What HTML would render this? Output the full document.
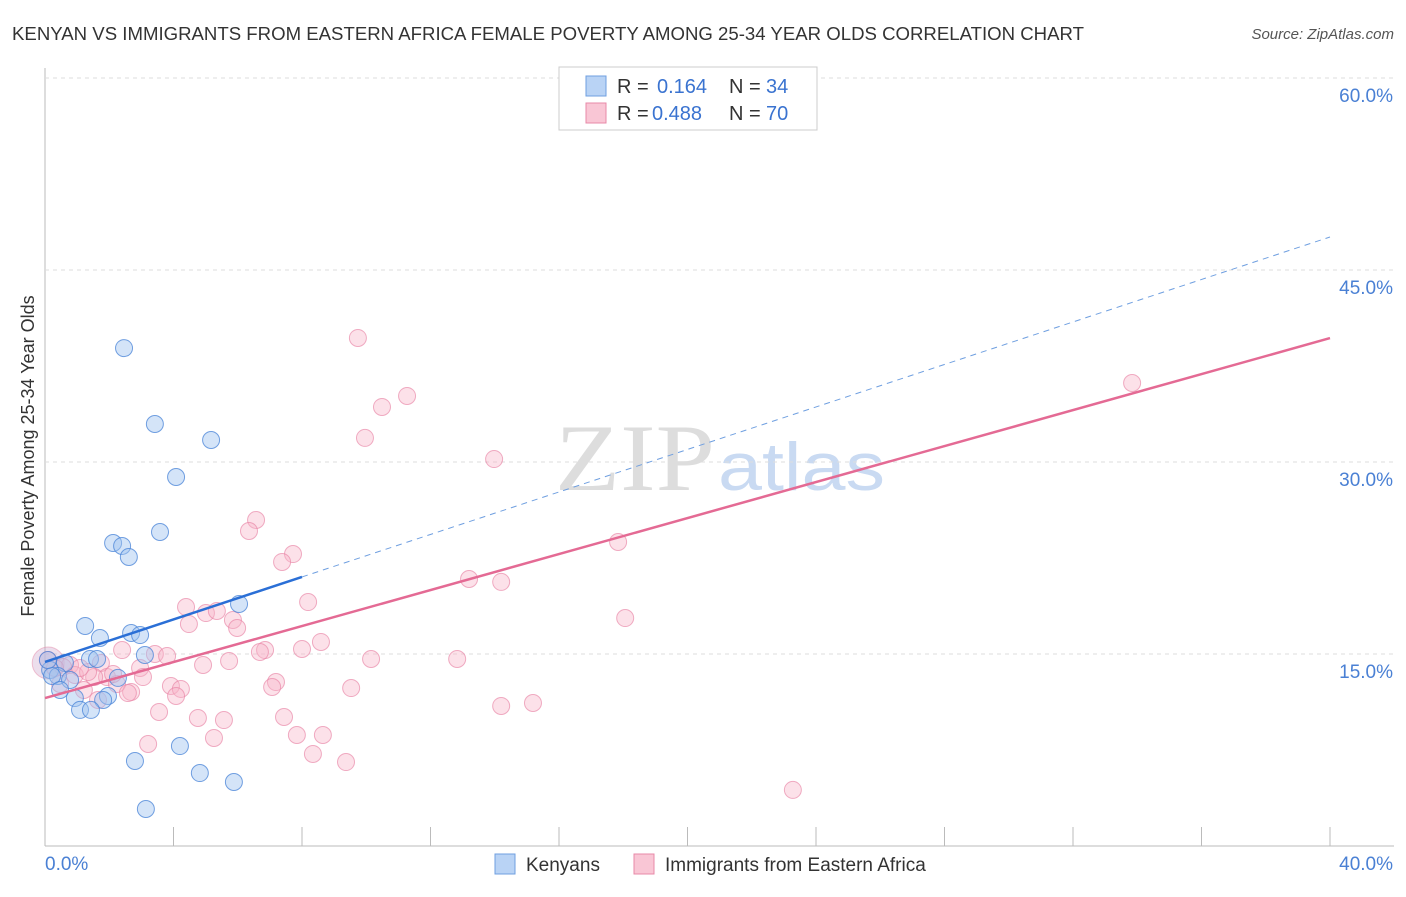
<!DOCTYPE html>
<html><head><meta charset="utf-8"><style>
body{margin:0;background:#fff;font-family:"Liberation Sans",sans-serif;}
</style></head><body>
<svg width="1406" height="892" xmlns="http://www.w3.org/2000/svg" id="chart">
<text x="12" y="40" font-size="18" fill="#333" textLength="1072" lengthAdjust="spacingAndGlyphs">KENYAN VS IMMIGRANTS FROM EASTERN AFRICA FEMALE POVERTY AMONG 25-34 YEAR OLDS CORRELATION CHART</text>
<text x="1394" y="39" font-size="15" fill="#555" font-style="italic" text-anchor="end">Source: ZipAtlas.com</text>
<text x="555" y="490" font-size="95" fill="#ddd" textLength="160" lengthAdjust="spacingAndGlyphs" font-family="Liberation Serif">ZIP</text>
<text x="718" y="490" font-size="68" fill="#c9daf2" textLength="167" lengthAdjust="spacingAndGlyphs">atlas</text>
<text transform="translate(34,456) rotate(-90)" font-size="18" fill="#333" text-anchor="middle">Female Poverty Among 25-34 Year Olds</text>
<g id="grid"></g><g id="pts"></g><g id="lines"></g>
<g>
<rect x="559" y="67" width="258" height="63" fill="#fff" stroke="#ccc"/>
<rect x="586" y="76" width="20" height="20" fill="#b9d3f5" stroke="#6f9fe0"/>
<rect x="586" y="103" width="20" height="20" fill="#f9c6d5" stroke="#e889a8"/>
<text x="617" y="93" font-size="20" fill="#333">R =</text>
<text x="657" y="93" font-size="20" fill="#3a73d0">0.164</text>
<text x="729" y="93" font-size="20" fill="#333">N =</text>
<text x="766" y="93" font-size="20" fill="#3a73d0">34</text>
<text x="617" y="120" font-size="20" fill="#333">R =</text>
<text x="652" y="120" font-size="20" fill="#3a73d0">0.488</text>
<text x="729" y="120" font-size="20" fill="#333">N =</text>
<text x="766" y="120" font-size="20" fill="#3a73d0">70</text>
</g>
<g>
<rect x="495" y="854" width="20" height="20" fill="#b9d3f5" stroke="#6f9fe0"/>
<text x="526" y="871" font-size="19" fill="#333">Kenyans</text>
<rect x="634" y="854" width="20" height="20" fill="#f9c6d5" stroke="#e889a8"/>
<text x="665" y="871" font-size="19" fill="#333">Immigrants from Eastern Africa</text>
</g>
</svg>
<script>
const xTicks=[0,4,8,12,16,20,24,28,32,36,40];
const yTicks=[15,30,45,60];
const yTickLabels=["15.0%","30.0%","45.0%","60.0%"];
const kenX=[2.46,3.42,5.17,4.08,3.58,2.12,2.40,2.61,6.04,1.25,2.68,2.96,1.71,3.11,1.40,1.62,0.62,0.16,0.40,0.78,0.22,2.27,0.47,0.93,1.96,1.81,1.09,1.43,4.20,2.80,4.82,5.88,3.14,0.09];
const kenY=[38.9,32.97,31.72,28.83,24.53,23.67,23.44,22.58,18.91,17.19,16.64,16.48,16.25,14.92,14.61,14.61,14.30,13.75,13.28,12.97,13.28,13.13,12.19,11.56,11.72,11.41,10.63,10.63,7.81,6.64,5.70,5.00,2.89,14.53];
const immX=[9.74,11.27,10.49,9.96,13.98,33.84,6.57,6.35,17.84,7.72,7.38,13.20,14.20,8.19,4.39,5.01,5.35,4.48,5.85,5.98,18.06,8.59,8.00,6.85,6.69,3.42,10.15,12.83,2.40,3.80,4.92,5.73,2.96,1.74,0.78,0.56,0.09,7.19,7.07,1.93,1.53,3.05,2.24,3.92,4.23,9.53,2.68,1.21,4.08,2.58,1.65,3.55,4.76,5.57,7.44,14.20,15.19,5.26,7.84,8.65,3.21,8.34,9.37,23.28,0.31,0.93,1.34,2.12,0.47,1.09];
const immY=[39.69,35.16,34.30,31.88,30.23,36.17,25.47,24.61,23.75,22.81,22.19,20.86,20.63,19.06,18.67,18.20,18.36,17.34,17.66,17.03,17.81,15.94,15.39,15.31,15.16,15.00,14.61,14.61,15.31,14.84,14.14,14.45,13.91,14.30,14.14,13.98,14.53,12.81,12.42,13.20,13.20,13.20,12.66,12.50,12.27,12.34,12.03,12.19,11.72,11.95,11.41,10.47,10.00,9.84,10.08,10.94,11.17,8.44,8.67,8.67,7.97,7.19,6.56,4.38,13.91,13.36,13.59,13.44,12.66,13.91];
const kenFit=[14.38,0.83]; const immFit=[11.56,0.703];
const X=v=>45+v/40*1285, Y=v=>846-v/15*192;
const NS="http://www.w3.org/2000/svg";
function mk(t,a,p){const e=document.createElementNS(NS,t);for(const k in a)e.setAttribute(k,a[k]);p.appendChild(e);return e;}
const g=document.getElementById('grid'),pts=document.getElementById('pts'),ln=document.getElementById('lines');
mk('line',{x1:45,y1:68,x2:45,y2:846,stroke:'#bbb'},g);
mk('line',{x1:45,y1:846,x2:1394,y2:846,stroke:'#bbb'},g);
yTicks.forEach((t,i)=>{const l=mk('line',{x1:45,y1:Y(t),x2:1394,y2:Y(t),stroke:'#ddd','stroke-dasharray':'4,4'},g);

const tx=mk('text',{x:1393,y:Y(t)+24,'font-size':19,fill:'#4a80d4','text-anchor':'end'},g);tx.textContent=yTickLabels[i];
});
xTicks.forEach(t=>{const l=mk('line',{x1:X(t),y1:827,x2:X(t),y2:846,stroke:'#bbb'},g);
});
let a=mk('text',{x:45,y:870,'font-size':19,fill:'#4a80d4'},g);a.textContent='0.0%';

a=mk('text',{x:1393,y:870,'font-size':19,fill:'#4a80d4','text-anchor':'end'},g);a.textContent='40.0%';

const big=mk('circle',{cx:X(0.1),cy:Y(14.3),r:16,fill:'rgba(200,160,200,0.35)',stroke:'rgba(230,140,170,0.5)'},pts);

immX.forEach((v,i)=>{const c=mk('circle',{cx:X(v),cy:Y(immY[i]),r:8.5,fill:'rgba(248,180,200,0.4)',stroke:'rgba(232,130,165,0.65)'},pts);
});
kenX.forEach((v,i)=>{const c=mk('circle',{cx:X(v),cy:Y(kenY[i]),r:8.5,fill:'rgba(160,195,240,0.45)',stroke:'rgba(70,130,215,0.75)'},pts);
});
let l=mk('line',{x1:X(0),y1:Y(kenFit[0]),x2:X(8),y2:Y(kenFit[0]+kenFit[1]*8),stroke:'#2a6fd6','stroke-width':2.5},ln);

l=mk('line',{x1:X(8),y1:Y(kenFit[0]+kenFit[1]*8),x2:X(40),y2:Y(kenFit[0]+kenFit[1]*40),stroke:'#6f9fe0','stroke-width':1,'stroke-dasharray':'6,5'},ln);

l=mk('line',{x1:X(0),y1:Y(immFit[0]),x2:X(40),y2:Y(immFit[0]+immFit[1]*40),stroke:'#e46a94','stroke-width':2.5},ln);

</script>
</body></html>
